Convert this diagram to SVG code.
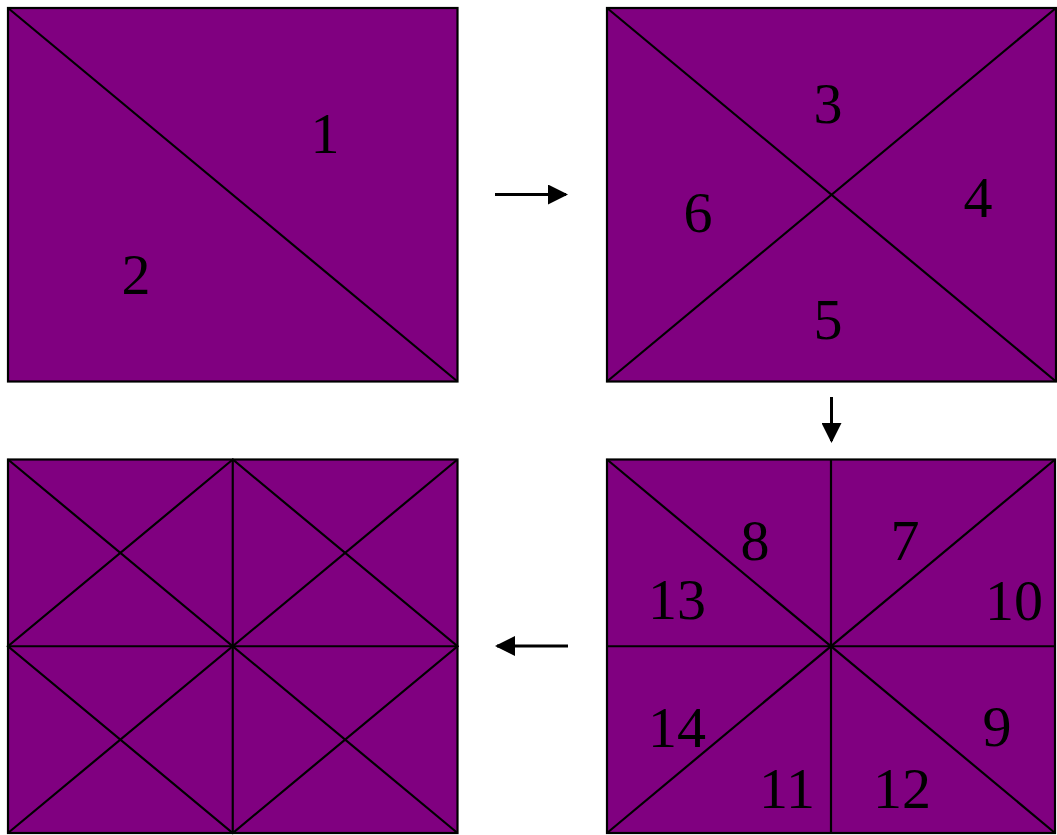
<svg xmlns="http://www.w3.org/2000/svg" width="1057" height="835" viewBox="0 0 1057 835">
<style>
.box{fill:#800080;stroke:#000;stroke-width:2.2}
.ln{stroke:#000;stroke-width:2.2;fill:none}
.ar{stroke:#000;stroke-width:3;fill:none}
.t{font-family:"Liberation Serif","Times New Roman",serif;font-size:58px;fill:#000;text-anchor:middle}
</style>
<defs>
<marker id="ah" viewBox="0 0 20 20" refX="18" refY="10" markerWidth="20" markerHeight="20" markerUnits="userSpaceOnUse" orient="auto">
<path d="M0,0 L20,10 L0,20 Z" fill="#000"/>
</marker>
</defs>
<g id="panel1">
<rect class="box" x="8" y="8" width="449.5" height="373.5"/>
<line class="ln" x1="8" y1="8" x2="457.5" y2="381.5"/>
<text class="t" x="325" y="153">1</text>
<text class="t" x="136" y="294">2</text>
</g>
<g id="panel2">
<rect class="box" x="607" y="8" width="449" height="373.5"/>
<line class="ln" x1="607" y1="8" x2="1056" y2="381.5"/>
<line class="ln" x1="1056" y1="8" x2="607" y2="381.5"/>
<text class="t" x="828" y="123">3</text>
<text class="t" x="978" y="217">4</text>
<text class="t" x="828" y="339">5</text>
<text class="t" x="698" y="232">6</text>
</g>
<g id="panel3">
<rect class="box" x="607" y="459.5" width="448" height="373.5"/>
<line class="ln" x1="607" y1="459.5" x2="1055" y2="833"/>
<line class="ln" x1="1055" y1="459.5" x2="607" y2="833"/>
<line class="ln" x1="831" y1="459.5" x2="831" y2="833"/>
<line class="ln" x1="607" y1="646.25" x2="1055" y2="646.25"/>
<text class="t" x="755" y="560">8</text>
<text class="t" x="905" y="560">7</text>
<text class="t" x="677" y="619">13</text>
<text class="t" x="1014" y="620">10</text>
<text class="t" x="677" y="747">14</text>
<text class="t" x="997" y="746">9</text>
<text class="t" x="787" y="808">11</text>
<text class="t" x="902" y="808">12</text>
</g>
<g id="panel4">
<rect class="box" x="8" y="459.5" width="449.5" height="373.5"/>
<line class="ln" x1="8" y1="459.5" x2="457.5" y2="833"/>
<line class="ln" x1="457.5" y1="459.5" x2="8" y2="833"/>
<line class="ln" x1="232.75" y1="459.5" x2="232.75" y2="833"/>
<line class="ln" x1="8" y1="646.25" x2="457.5" y2="646.25"/>
<path class="ln" d="M232.75,459.5 L8,646.25 L232.75,833 L457.5,646.25 Z"/>
</g>
<g id="connectors">
<line class="ar" x1="495" y1="194.5" x2="566" y2="194.5" marker-end="url(#ah)"/>
<line class="ar" x1="831.5" y1="397" x2="831.5" y2="441" marker-end="url(#ah)"/>
<line class="ar" x1="568" y1="646" x2="497" y2="646" marker-end="url(#ah)"/>
</g>
</svg>
